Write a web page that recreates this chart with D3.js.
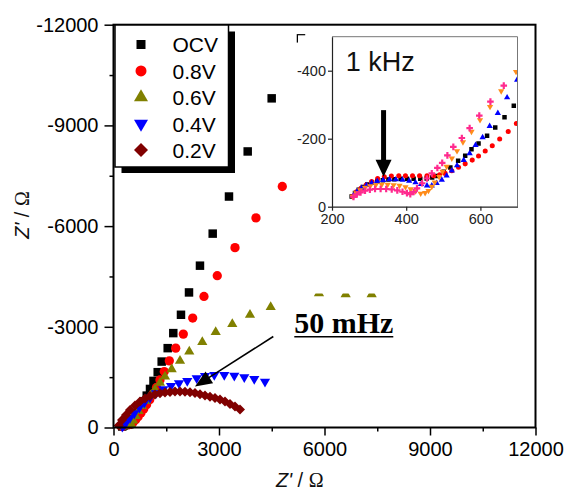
<!DOCTYPE html>
<html><head><meta charset="utf-8">
<script src="https://cdn.jsdelivr.net/npm/d3@7/dist/d3.min.js"></script>
<style>body{margin:0;background:#fff}svg{display:block}</style>
</head><body>
<svg id="c" width="567" height="488"></svg>
<script>
// ---------- data (Z', Z'' in ohm) ----------
const seriesNames = ["OCV", "0.8V", "0.6V", "0.4V", "0.2V"];
const ocvMain = [[250,-30],[300,-62],[350,-78],[400,-84],[450,-95],[500,-160],[560,-255],[630,-370],[700,-490],[780,-630],[860,-780],[945,-950],[1038,-1149],[1137,-1388],[1257,-1648],[1370,-1964],[1541,-2364],[1700,-2812],[1919,-3358],[2147,-4024],[2459,-4821],[2821,-5776],[3284,-6881],[3816,-8224],[4498,-9806],[5331,-11594]];
const v08Main = [[255,-30],[290,-60],[340,-85],[400,-88],[450,-90],[500,-110],[560,-160],[630,-230],[700,-320],[780,-430],[860,-550],[940,-680],[1030,-830],[1123,-1000],[1223,-1194],[1322,-1418],[1444,-1666],[1587,-1985],[1769,-2364],[1985,-2782],[2252,-3260],[2573,-3904],[2951,-4522],[3455,-5358],[4052,-6245],[4800,-7179]];
const v06Main = [[270,-35],[320,-65],[380,-75],[450,-70],[498,-104],[554,-209],[626,-343],[711,-493],[810,-642],[924,-791],[1052,-955],[1180,-1134],[1322,-1328],[1464,-1516],[1655,-1737],[1891,-1985],[2155,-2263],[2525,-2543],[2906,-2842],[3378,-3081],[3881,-3358],[4470,-3588],[5843,-4000],[6602,-3970],[7341,-3970]];
const v04Main = [[250,-30],[280,-60],[320,-90],[370,-179],[469,-284],[591,-424],[734,-591],[876,-740],[1038,-890],[1208,-1021],[1416,-1140],[1635,-1239],[1862,-1319],[2098,-1388],[2366,-1469],[2602,-1537],[2866,-1567],[3150,-1567],[3435,-1546],[3719,-1499],[4003,-1448],[4308,-1367]];
const v02Main = [[150,-60],[242,-224],[355,-373],[469,-522],[611,-657],[753,-776],[896,-866],[1038,-940],[1180,-985],[1322,-1021],[1464,-1045],[1607,-1060],[1749,-1069],[1891,-1075],[2033,-1066],[2175,-1051],[2317,-1030],[2459,-991],[2602,-955],[2744,-916],[2886,-881],[3028,-836],[3170,-776],[3313,-701],[3455,-627],[3597,-537]];

// inset (high-frequency region)
const ocvInset = [[253,-30],[262,-40],[272,-50],[283,-58],[295,-65],[308,-71],[322,-75],[337,-78],[352,-80],[368,-81],[385,-82],[402,-82],[420,-82],[438,-82],[455,-83],[470,-86],[483,-90],[501,-103],[519,-115],[540,-135],[559,-150],[576,-169],[595,-186],[618,-209],[640,-233],[665,-263],[690,-297]];
const v08Inset = [[256,-31],[266,-44],[278,-54],[292,-64],[307,-74],[323,-83],[341,-88],[360,-90],[380,-91],[398,-91],[417,-91],[436,-91],[456,-91],[474,-91],[490,-94],[505,-98],[523,-106],[541,-116],[559,-126],[578,-137],[595,-149],[613,-164],[632,-179],[652,-199],[675,-221],[697,-245]];
const v06Inset = [[258,-33],[268,-45],[280,-55],[293,-63],[307,-70],[322,-75],[338,-78],[355,-80],[372,-80],[390,-79],[408,-76],[425,-71],[440,-66],[456,-62],[469,-62],[482,-69],[496,-79],[509,-91],[523,-106],[537,-121],[555,-137],[571,-157],[587,-181],[606,-204],[625,-237],[647,-275],[672,-321],[699,-373]];
const v04Inset = [[256,-30],[265,-40],[276,-49],[289,-56],[303,-61],[318,-64],[334,-65],[350,-65],[366,-64],[382,-62],[398,-58],[412,-52],[425,-46],[439,-39],[451,-41],[460,-47],[469,-59],[477,-72],[489,-88],[498,-103],[509,-118],[523,-142],[537,-164],[553,-190],[576,-221],[599,-255],[626,-294],[656,-340],[696,-397]];
const v02Inset = [[258,-29],[267,-36],[277,-42],[289,-47],[302,-50],[316,-52],[331,-52],[346,-52],[361,-51],[376,-48],[390,-44],[402,-40],[411,-37],[420,-43],[429,-54],[443,-69],[456,-83],[469,-98],[484,-114],[497,-129],[511,-151],[527,-176],[550,-202],[571,-231],[597,-268],[627,-309],[663,-356]];

const xTicks = [0, 3000, 6000, 9000, 12000];
const xMinor = [1500, 4500, 7500, 10500];
const yTicks = [0, -3000, -6000, -9000, -12000];
const yMinor = [-1500, -4500, -7500, -10500];
const insetXTicks = [200, 400, 600];
const insetYTicks = [0, -200, -400];

const mainArrow = {from: [4544, -2710], to: [2317, -1224], label: "50 mHz", labelAt: [5141, -2821]};
const insetArrow = {from: [339, -284], to: [339, -88], label: "1 kHz", labelAt: [237, -399]};

// ---------- drawing ----------
const svg = d3.select("#c");
const FONT = "'Liberation Sans', Arial, sans-serif";
const x = d3.scaleLinear().domain([0, 12000]).range([113.5, 535.5]);
const y = d3.scaleLinear().domain([0, -12000]).range([427.5, 24.7]);

function symPath(shape, size) {
  const t = {square: d3.symbolSquare, circle: d3.symbolCircle, triangle: d3.symbolTriangle,
             down: d3.symbolTriangle, diamond: d3.symbolSquare, cross: d3.symbolCross}[shape];
  return d3.symbol(t, size)();
}
function symRot(shape) { return shape === "down" ? 180 : (shape === "diamond" ? 45 : 0); }

const mainStyle = [
  {data: ocvMain, color: "#000000", shape: "square", size: 72, leg: 81},
  {data: v08Main, color: "#ff0000", shape: "circle", size: 68, leg: 95},
  {data: v06Main, color: "#808000", shape: "triangle", size: 45, leg: 85},
  {data: v04Main, color: "#0000ff", shape: "down", size: 45, leg: 85},
  {data: v02Main, color: "#800000", shape: "diamond", size: 50, leg: 98}
];
const insetStyle = [
  {data: ocvInset, color: "#000000", shape: "square", size: 20},
  {data: v08Inset, color: "#ff0000", shape: "circle", size: 20},
  {data: v06Inset, color: "#0000ff", shape: "triangle", size: 17},
  {data: v04Inset, color: "#ff8c1a", shape: "down", size: 17},
  {data: v02Inset, color: "#ff2a8e", shape: "cross", size: 24}
];

// main markers
mainStyle.forEach(s => {
  svg.append("g").selectAll("path").data(s.data).join("path")
    .attr("d", symPath(s.shape, s.size))
    .attr("transform", d => `translate(${x(d[0])},${y(d[1])}) rotate(${symRot(s.shape)})`)
    .attr("fill", s.color);
});

// main axes
const gx = svg.append("g").attr("transform", `translate(0,${y(0)})`)
  .call(d3.axisBottom(x).tickValues(xTicks).tickSize(8).tickSizeOuter(0).tickPadding(6).tickFormat(d => String(d)));
const gxm = svg.append("g").attr("transform", `translate(0,${y(0)})`)
  .call(d3.axisBottom(x).tickValues(xMinor).tickSize(4).tickSizeOuter(0).tickFormat(""));
const gy = svg.append("g").attr("transform", `translate(${x(0)},0)`)
  .call(d3.axisLeft(y).tickValues(yTicks).tickSize(9).tickSizeOuter(0).tickPadding(6).tickFormat(d => String(d)));
const gym = svg.append("g").attr("transform", `translate(${x(0)},0)`)
  .call(d3.axisLeft(y).tickValues(yMinor).tickSize(4).tickSizeOuter(0).tickFormat(""));
[gx, gxm, gy, gym].forEach(g => {
  g.select(".domain").remove();
  g.selectAll("line").attr("stroke", "#000").attr("stroke-width", 1.5);
  g.selectAll("text").attr("font-family", FONT).attr("font-size", 20).attr("fill", "#000");
});
gx.selectAll("text").attr("dy", "0.71em");

// inset white background (covers main markers)
svg.append("rect").attr("x", 298).attr("y", 35.3).attr("width", 236).attr("height", 258.2).attr("fill", "#fff");

// main frame
svg.append("rect").attr("x", x(0)).attr("y", y(-12000)).attr("width", x(12000) - x(0)).attr("height", y(0) - y(-12000))
  .attr("fill", "none").attr("stroke", "#000").attr("stroke-width", 2);

// axis titles
function axisTitle(sel) {
  sel.append("tspan").attr("font-style", "italic").text("Z'");
  sel.append("tspan").text(" / ");
  sel.append("tspan").attr("font-family", "'Liberation Serif', 'Times New Roman', serif").text("Ω");
}
svg.append("text").attr("x", 276).attr("y", 486.5).attr("font-family", FONT).attr("font-size", 20).attr("fill", "#111").call(axisTitle);
svg.append("text").attr("transform", "translate(29,215) rotate(-90)").attr("text-anchor", "middle")
  .attr("font-family", FONT).attr("font-size", 20).attr("fill", "#111").call(axisTitle);

// legend
const lg = svg.append("g");
lg.append("rect").attr("x", 121.5).attr("y", 31.5).attr("width", 113.5).attr("height", 141.5).attr("fill", "#000");
lg.append("rect").attr("x", 115).attr("y", 25).attr("width", 113.5).attr("height", 142).attr("fill", "#fff").attr("stroke", "#000").attr("stroke-width", 1.5);
seriesNames.forEach((n, i) => {
  const s = mainStyle[i];
  const cy = 44.5 + i * 26.4;
  lg.append("path").attr("d", symPath(s.shape, s.leg))
    .attr("transform", `translate(141,${cy}) rotate(${symRot(s.shape)})`).attr("fill", s.color);
  lg.append("text").attr("x", 172.5).attr("y", cy + 7.8).attr("font-family", FONT).attr("font-size", 21).attr("fill", "#000").text(n);
});

// main annotation arrow
function arrow(g, p0, p1, w, headLen, headHalf) {
  const dx = p1[0] - p0[0], dy = p1[1] - p0[1], L = Math.hypot(dx, dy);
  const ux = dx / L, uy = dy / L, nx = -uy, ny = ux;
  const bx = p1[0] - ux * headLen, by = p1[1] - uy * headLen;
  g.append("line").attr("x1", p0[0]).attr("y1", p0[1]).attr("x2", bx + ux * 2).attr("y2", by + uy * 2)
    .attr("stroke", "#000").attr("stroke-width", w);
  g.append("path").attr("d", `M${p1[0]},${p1[1]}L${bx + nx * headHalf},${by + ny * headHalf}L${bx - nx * headHalf},${by - ny * headHalf}Z`).attr("fill", "#000");
}
arrow(svg, [x(mainArrow.from[0]), y(mainArrow.from[1])], [x(mainArrow.to[0]), y(mainArrow.to[1])], 1.6, 17, 7);
const lab = svg.append("text").attr("x", x(mainArrow.labelAt[0])).attr("y", y(mainArrow.labelAt[1]))
  .attr("font-family", "'Liberation Serif', 'Times New Roman', serif").attr("font-weight", "bold").attr("font-size", 29)
  .attr("textLength", 99).attr("lengthAdjust", "spacingAndGlyphs").attr("fill", "#000")
  .text(mainArrow.label);
svg.append("line").attr("x1", x(mainArrow.labelAt[0])).attr("x2", x(mainArrow.labelAt[0]) + 99)
  .attr("y1", y(mainArrow.labelAt[1]) + 4).attr("y2", y(mainArrow.labelAt[1]) + 4).attr("stroke", "#000").attr("stroke-width", 1.6);

// ---------- inset ----------
const ix = d3.scaleLinear().domain([200, 700]).range([332, 517.5]);
const iy = d3.scaleLinear().domain([0, -500]).range([206.7, 36.7]);
svg.append("clipPath").attr("id", "ic").append("rect")
  .attr("x", ix(200)).attr("y", iy(-500)).attr("width", ix(700) - ix(200)).attr("height", iy(0) - iy(-500));
const ig = svg.append("g").attr("clip-path", "url(#ic)");
insetStyle.forEach(s => {
  ig.append("g").selectAll("path").data(s.data).join("path")
    .attr("d", symPath(s.shape, s.size))
    .attr("transform", d => `translate(${ix(d[0])},${iy(d[1])}) rotate(${symRot(s.shape)})`)
    .attr("fill", s.color);
});
// inset frame
svg.append("path").attr("d", `M${ix(200)},${iy(-500)}H${ix(700)}V${iy(0)}`).attr("fill", "none").attr("stroke", "#777").attr("stroke-width", 1);
const igx = svg.append("g").attr("transform", `translate(0,${iy(0)})`)
  .call(d3.axisBottom(ix).tickValues(insetXTicks).tickSize(4).tickSizeOuter(0).tickPadding(3).tickFormat(d => String(d)));
const igy = svg.append("g").attr("transform", `translate(${ix(200)},0)`)
  .call(d3.axisLeft(iy).tickValues(insetYTicks).tickSize(4).tickSizeOuter(0).tickPadding(2).tickFormat(d => String(d)));
[igx, igy].forEach(g => {
  g.select(".domain").attr("stroke", "#222").attr("stroke-width", 1.2);
  g.selectAll("line").attr("stroke", "#222").attr("stroke-width", 1.2);
  g.selectAll("text").attr("font-family", FONT).attr("font-size", 14.5).attr("fill", "#222");
});
svg.append("text").attr("x", ix(insetArrow.labelAt[0])).attr("y", iy(insetArrow.labelAt[1]))
  .attr("font-family", FONT).attr("font-size", 27).attr("fill", "#111").text(insetArrow.label);
arrow(svg, [ix(insetArrow.from[0]), iy(insetArrow.from[1])], [ix(insetArrow.to[0]), iy(insetArrow.to[1])], 5, 17, 8);
</script>
</body></html>
